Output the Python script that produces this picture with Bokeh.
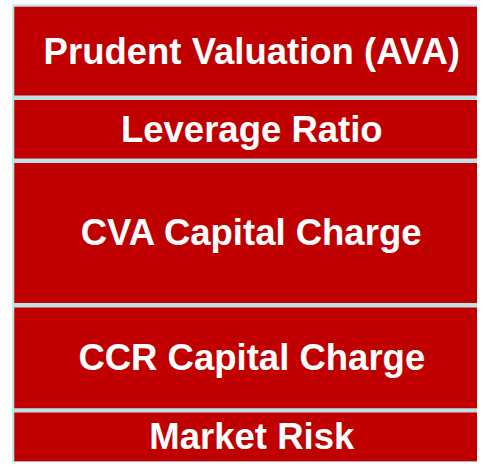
from bokeh.plotting import figure
from bokeh.models import ColumnDataSource, Range1d
from bokeh.core.properties import value
from bokeh.embed import file_html
from bokeh.resources import INLINE
import numpy as np

# Data: stacked blocks, top to bottom
labels = ["Prudent Valuation (AVA)", "Leverage Ratio", "CVA Capital Charge",
          "CCR Capital Charge", "Market Risk"]
heights = [95, 64, 147, 107, 54]

# layout (reference pixel coordinates mapped onto the figure)
W, H = 477, 462
RW, RH = 485, 470
start = 4.0
gap = 4.5
left, right = 12, 510

bounds = start + np.concatenate([[0], np.cumsum(heights)])
tops = bounds[:-1] + gap / 2
bottoms = bounds[1:] - gap / 2
mids = (tops + bottoms) / 2

src = ColumnDataSource(dict(label=labels, top=tops, bottom=bottoms, mid=mids,
                            left=[left + 2] * len(labels), right=[right] * len(labels),
                            cx=[255.5] * len(labels)))

p = figure(width=W, height=H, output_backend="svg", toolbar_location=None,
           x_range=Range1d(0, RW), y_range=Range1d(RH, 0),
           min_border=0, outline_line_color=None, background_fill_color="white",
           border_fill_color="white")
p.axis.visible = False
p.grid.visible = False

# frame / separators
p.quad(left=[left], right=[right], top=[start], bottom=[bounds[-1]],
       fill_color="#BDE1E6", line_color=None)
p.quad(left="left", right="right", top="top", bottom="bottom", source=src,
       fill_color="#C00000", line_color=None)
p.text(x="cx", y="mid", text="label", source=src, text_color="white",
       text_font=value("Liberation Sans"), text_font_style="bold",
       text_font_size="36.5px", text_align="center", text_baseline="middle")

open("out.html", "w").write(file_html(p, INLINE))
